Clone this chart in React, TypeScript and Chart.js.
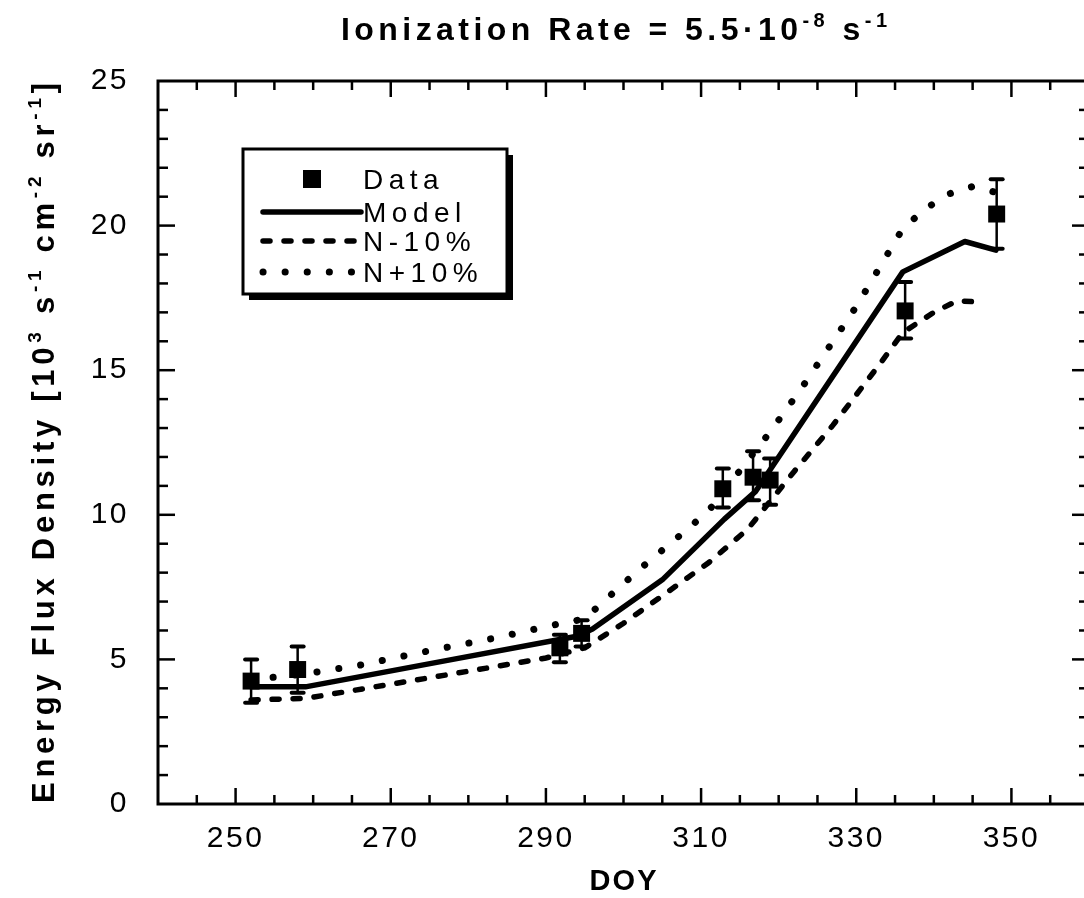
import React, { useEffect, useRef } from 'react';
import { Chart, registerables } from 'chart.js';

Chart.register(...registerables);

// ---------- data ----------
const X_TICKS = [250, 270, 290, 310, 330, 350];
const Y_TICKS = [0, 5, 10, 15, 20, 25];

const DATA_DOY = [252, 258, 291.8, 294.6, 312.8, 316.7, 318.9, 336.3, 348.1];
const DATA_FLUX = [4.25, 4.65, 5.4, 5.9, 10.9, 11.3, 11.2, 17.05, 20.4];
const DATA_LOW = [3.5, 3.85, 4.9, 5.45, 10.25, 10.5, 10.35, 16.1, 19.2];
const DATA_HIGH = [5.0, 5.45, 5.85, 6.35, 11.6, 12.2, 11.95, 18.05, 21.6];

const MODEL_DOY = [252, 259, 278, 294, 296, 305, 313, 317, 336, 344, 348];
const MODEL_FLUX = [4.05, 4.05, 5.0, 5.8, 6.05, 7.75, 9.85, 10.8, 18.4, 19.45, 19.15];

const NMINUS_DOY = [252, 259, 278, 290, 295, 300, 305, 311, 316, 322, 327, 333, 336, 340, 343, 346.5];
const NMINUS_FLUX = [3.6, 3.65, 4.5, 5.05, 5.4, 6.25, 7.2, 8.35, 9.5, 11.5, 13.1, 15.2, 16.3, 17.0, 17.4, 17.35];

const NPLUS_DOY = [252, 259, 266, 275, 284, 292, 295, 297, 302, 308, 311, 319, 323, 330, 336, 339, 342, 345, 348];
const NPLUS_FLUX = [4.3, 4.5, 4.8, 5.3, 5.77, 6.25, 6.4, 6.9, 8.1, 9.45, 10.15, 12.9, 14.4, 17.2, 19.9, 20.6, 21.1, 21.35, 21.15];

const SERIES_LABELS = ['Data', 'Model', 'N-10%', 'N+10%'];

type Seg = { t: string; sup?: boolean };
const TITLE: Seg[] = [
  { t: 'Ionization Rate = 5.5·10' },
  { t: '-8', sup: true },
  { t: ' s' },
  { t: '-1', sup: true },
];
const Y_TITLE: Seg[] = [
  { t: 'Energy Flux Density [10' },
  { t: '3', sup: true },
  { t: ' s' },
  { t: '-1', sup: true },
  { t: ' cm' },
  { t: '-2', sup: true },
  { t: ' sr' },
  { t: '-1', sup: true },
  { t: ']' },
];
const X_TITLE = 'DOY';

const FAMILY = '"Liberation Sans", Arial, Helvetica, sans-serif';

const pts = (xs: number[], ys: number[]) => xs.map((x, i) => ({ x, y: ys[i] }));

function drawRich(
  ctx: CanvasRenderingContext2D,
  segs: Seg[],
  cx: number,
  baseY: number,
  size: number,
  weight: string,
  targetW: number
) {
  const supSize = Math.round(size * 0.62);
  const fontFor = (sup?: boolean) => `${weight} ${sup ? supSize : size}px ${FAMILY}`;
  (ctx as any).letterSpacing = '0px';
  let natural = 0;
  let chars = 0;
  const nat = segs.map((s) => {
    ctx.font = fontFor(s.sup);
    const w = ctx.measureText(s.t).width;
    natural += w;
    chars += s.t.length;
    return w;
  });
  const sp = Math.max(0, (targetW - natural) / Math.max(1, chars - 1));
  const widths = segs.map((s, i) => nat[i] + s.t.length * sp);
  const total = widths.reduce((a, b) => a + b, 0) - sp;
  let x = cx - total / 2;
  ctx.textAlign = 'left';
  ctx.textBaseline = 'alphabetic';
  (ctx as any).letterSpacing = sp + 'px';
  segs.forEach((s, i) => {
    ctx.font = fontFor(s.sup);
    ctx.fillText(s.t, x, baseY - (s.sup ? size * 0.42 : 0));
    x += widths[i];
  });
  (ctx as any).letterSpacing = '0px';
}

function line(ctx: CanvasRenderingContext2D, x1: number, y1: number, x2: number, y2: number) {
  ctx.beginPath();
  ctx.moveTo(x1, y1);
  ctx.lineTo(x2, y2);
  ctx.stroke();
}

const spacingPlugin = {
  id: 'spacing',
  beforeDraw(chart: any) {
    chart.ctx.letterSpacing = '2.5px';
  },
};

const errorBarPlugin = {
  id: 'errorBars',
  afterDatasetsDraw(chart: any) {
    const { ctx, scales } = chart;
    const x = scales.x;
    const y = scales.y;
    ctx.save();
    ctx.strokeStyle = '#000';
    DATA_DOY.forEach((d, i) => {
      const px = x.getPixelForValue(d);
      const lo = y.getPixelForValue(DATA_LOW[i]);
      const hi = y.getPixelForValue(DATA_HIGH[i]);
      ctx.lineWidth = 2.5;
      line(ctx, px, lo, px, hi);
      ctx.lineWidth = 4;
      ctx.lineCap = 'round';
      line(ctx, px - 6, lo, px + 6, lo);
      line(ctx, px - 6, hi, px + 6, hi);
    });
    ctx.restore();
  },
};

const framePlugin = {
  id: 'frame',
  afterDraw(chart: any) {
    const { ctx, chartArea: a, scales } = chart;
    const x = scales.x;
    const y = scales.y;
    ctx.save();
    (ctx as any).letterSpacing = '0px';
    ctx.strokeStyle = '#000';
    ctx.lineWidth = 3;
    ctx.strokeRect(a.left, a.top, a.right - a.left, a.bottom - a.top);
    ctx.lineWidth = 2.5;
    for (let v = Math.ceil(x.min / 5) * 5; v < x.max; v += 5) {
      if (v <= x.min) continue;
      const px = x.getPixelForValue(v);
      const len = X_TICKS.includes(v) ? 16 : 9;
      line(ctx, px, a.bottom, px, a.bottom - len);
      line(ctx, px, a.top, px, a.top + len);
    }
    for (let v = y.min + 1; v < y.max; v += 1) {
      const py = y.getPixelForValue(v);
      const len = Y_TICKS.includes(v) ? 17 : 10;
      line(ctx, a.left, py, a.left + len, py);
      line(ctx, a.right, py, a.right - len, py);
    }
    ctx.restore();
  },
};

const textPlugin = {
  id: 'texts',
  afterDraw(chart: any) {
    const { ctx } = chart;
    ctx.save();
    ctx.fillStyle = '#000';
    // title
    drawRich(ctx, TITLE, 614, 40, 32, 'bold', 546);
    // x title
    drawRich(ctx, [{ t: X_TITLE }], 623, 890, 29, 'bold', 67);
    // y title
    ctx.save();
    ctx.translate(54, 443);
    ctx.rotate(-Math.PI / 2);
    drawRich(ctx, Y_TITLE, 0, 0, 31, 'bold', 720);
    ctx.restore();
    ctx.restore();
  },
};

const legendPlugin = {
  id: 'customLegend',
  afterDraw(chart: any) {
    const { ctx } = chart;
    const box = { left: 243, top: 149, right: 507, bottom: 294, shadow: 6 };
    ctx.save();
    (ctx as any).letterSpacing = '0px';
    ctx.fillStyle = '#000';
    ctx.fillRect(box.left + box.shadow, box.top + box.shadow, box.right - box.left, box.bottom - box.top);
    ctx.fillStyle = '#fff';
    ctx.fillRect(box.left, box.top, box.right - box.left, box.bottom - box.top);
    ctx.strokeStyle = '#000';
    ctx.lineWidth = 3;
    ctx.strokeRect(box.left, box.top, box.right - box.left, box.bottom - box.top);

    const rows = [30, 63, 92, 123];
    const sx1 = 263;
    const sx2 = 361;
    chart.data.datasets.forEach((ds: any, i: number) => {
      const cy = box.top + rows[i];
      ctx.fillStyle = '#000';
      ctx.strokeStyle = '#000';
      if (i === 0) {
        ctx.fillRect(312 - 9, cy - 9, 18, 18);
      } else {
        ctx.lineWidth = ds.borderWidth;
        ctx.lineCap = ds.borderCapStyle || 'butt';
        ctx.setLineDash(ds.borderDash || []);
        line(ctx, sx1, cy, sx2, cy);
        ctx.setLineDash([]);
        ctx.lineCap = 'butt';
      }
      ctx.font = `28px ${FAMILY}`;
      (ctx as any).letterSpacing = '5.5px';
      ctx.textAlign = 'left';
      ctx.textBaseline = 'alphabetic';
      ctx.fillText(ds.label, 363, cy + 10);
      (ctx as any).letterSpacing = '0px';
    });
    ctx.restore();
  },
};

export default function App() {
  const ref = useRef<HTMLCanvasElement>(null);
  useEffect(() => {
    if (!ref.current) return;
    const tickFont = { family: FAMILY, size: 30 };
    const chart = new Chart(ref.current, {
      type: 'scatter',
      data: {
        datasets: [
          {
            label: SERIES_LABELS[0],
            data: pts(DATA_DOY, DATA_FLUX),
            pointStyle: 'rect',
            pointRadius: 12,
            pointBorderWidth: 0,
            backgroundColor: '#000',
            borderColor: '#000',
            showLine: false,
          },
          {
            label: SERIES_LABELS[1],
            data: pts(MODEL_DOY, MODEL_FLUX),
            showLine: true,
            borderColor: '#000',
            borderWidth: 5.5,
            borderCapStyle: 'round',
            borderJoinStyle: 'round',
            pointRadius: 0,
            tension: 0,
          },
          {
            label: SERIES_LABELS[2],
            data: pts(NMINUS_DOY, NMINUS_FLUX),
            showLine: true,
            borderColor: '#000',
            borderWidth: 5.5,
            borderDash: [7, 14],
            borderCapStyle: 'round',
            pointRadius: 0,
            tension: 0,
          },
          {
            label: SERIES_LABELS[3],
            data: pts(NPLUS_DOY, NPLUS_FLUX),
            showLine: true,
            borderColor: '#000',
            borderWidth: 7,
            borderDash: [0.1, 22],
            borderCapStyle: 'round',
            pointRadius: 0,
            tension: 0,
          },
        ],
      } as any,
      options: {
        animation: false,
        responsive: false,
        devicePixelRatio: 1,
        layout: { autoPadding: false, padding: { top: 81, right: 3, left: 0, bottom: 0 } },
        plugins: {
          legend: { display: false },
          tooltip: { enabled: false },
          title: { display: false },
        },
        scales: {
          x: {
            type: 'linear',
            min: 240,
            max: 360,
            grid: { display: false, drawTicks: false },
            border: { display: false },
            ticks: { padding: 17, font: tickFont, color: '#000', maxRotation: 0, autoSkip: false },
            afterBuildTicks: (s: any) => {
              s.ticks = X_TICKS.map((v) => ({ value: v }));
            },
            afterFit: (s: any) => {
              s.height = 94;
              s.paddingLeft = 0;
              s.paddingRight = 0;
            },
          },
          y: {
            type: 'linear',
            min: 0,
            max: 25,
            grid: { display: false, drawTicks: false },
            border: { display: false },
            ticks: { padding: 29, font: tickFont, color: '#000' },
            afterBuildTicks: (s: any) => {
              s.ticks = Y_TICKS.map((v) => ({ value: v }));
            },
            afterFit: (s: any) => {
              s.width = 158;
              s.paddingTop = 0;
              s.paddingBottom = 0;
            },
          },
        },
      } as any,
      plugins: [spacingPlugin, errorBarPlugin, framePlugin, textPlugin, legendPlugin],
    });
    return () => chart.destroy();
  }, []);

  return (
    <div
      style={{
        position: 'fixed',
        left: 0,
        top: 0,
        width: 1084,
        height: 898,
        overflow: 'hidden',
        background: '#fff',
      }}
    >
      <canvas ref={ref} width={1092} height={898} style={{ display: 'block', width: 1092, height: 898 }} />
    </div>
  );
}
